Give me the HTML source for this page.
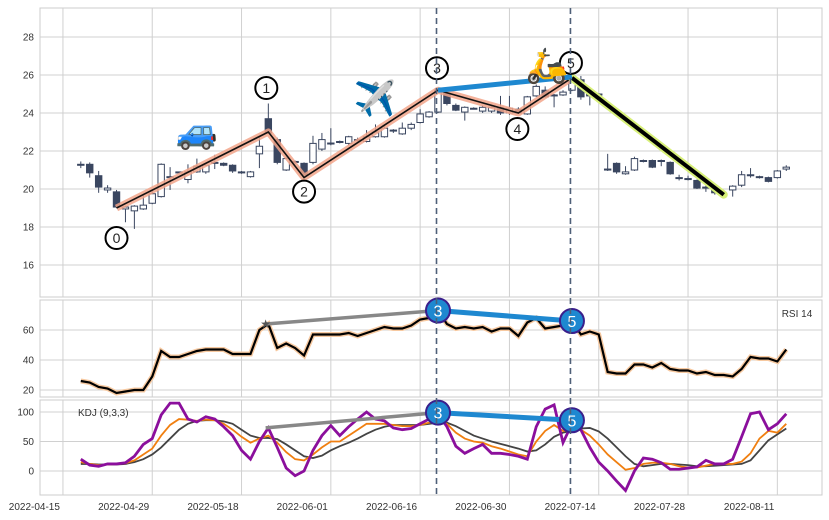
<!DOCTYPE html>
<html><head><meta charset="utf-8">
<style>
body{margin:0;background:#fff;}
svg{display:block;font-family:"Liberation Sans",sans-serif;}
</style></head>
<body>
<svg id="chart" width="829" height="520" viewBox="0 0 829 520" xmlns="http://www.w3.org/2000/svg"></svg>
<script>
const openP=[21.25,21.3,20.7,19.95,19.85,18.95,18.85,18.95,19.25,19.6,20.6,20.85,20.5,20.9,20.9,21.35,21.35,21.25,20.9,20.65,21.85,23.7,22.6,21.0,21.4,21.35,21.4,22.1,22.4,22.45,22.4,22.55,22.5,22.75,22.75,23.05,22.9,23.2,23.5,23.8,24.05,25.05,24.4,24.05,24.25,24.1,24.1,24.3,24.0,24.2,23.95,24.9,25.2,24.95,24.95,25.2,25.75,25.15,25.0,21.05,21.35,20.8,21.0,21.45,21.5,21.5,21.4,20.6,20.55,20.45,20.1,20.1,19.75,19.95,20.2,20.7,20.65,20.6,20.6,21.05];
const highP=[21.45,21.4,20.95,20.2,19.95,19.1,19.15,19.7,19.95,21.35,21.15,20.9,21.3,21.6,21.3,21.8,21.4,21.3,20.95,20.95,22.8,24.5,22.7,21.7,21.5,21.4,22.8,22.95,23.2,22.55,22.8,22.7,23.1,23.4,23.3,23.15,23.5,23.5,24.2,24.1,25.3,25.1,24.5,24.35,24.3,24.4,24.35,24.9,24.9,24.3,24.9,25.5,25.4,25.0,25.2,25.9,25.95,25.2,25.05,21.85,21.4,21.2,21.7,21.55,21.55,21.55,21.45,20.75,20.7,20.5,20.2,20.2,19.85,20.2,20.95,21.1,20.7,20.65,21.0,21.25];
const lowP=[21.1,20.6,19.8,19.8,19.0,18.25,17.9,18.9,19.2,19.55,19.95,20.8,20.3,20.85,20.8,21.05,21.2,20.85,20.8,20.6,21.1,22.9,21.3,20.95,21.3,20.6,21.3,22.0,22.3,22.4,22.3,22.5,22.45,22.7,22.7,22.95,22.85,23.1,23.45,23.75,24.0,24.4,24.1,23.6,24.2,24.0,24.0,23.9,23.9,23.95,23.9,24.85,24.8,24.3,24.9,25.15,24.7,24.4,24.9,20.95,20.8,20.75,20.95,21.4,21.1,21.2,20.75,20.45,20.45,20.0,19.85,19.7,19.6,19.6,20.1,20.6,20.55,20.35,20.55,20.95];
const closeP=[21.3,20.85,20.1,20.05,19.05,19.05,19.1,19.15,19.75,21.3,20.65,20.9,20.9,21.2,21.25,21.4,21.25,20.95,20.85,20.9,22.25,22.95,21.4,21.6,21.45,20.75,22.4,22.6,22.42,22.5,22.75,22.6,22.75,23.0,23.2,23.1,23.2,23.4,23.95,24.05,25.2,24.5,24.15,24.3,24.25,24.3,24.3,24.0,24.25,24.0,24.85,25.4,24.85,24.95,25.1,25.8,24.85,24.9,24.95,21.0,20.9,20.9,21.6,21.5,21.15,21.5,20.8,20.6,20.55,20.05,20.1,19.8,19.7,20.15,20.75,20.75,20.65,20.4,20.95,21.15];
const rsi=[26,25,22,21,18,19,20,20,29,46,42,42,44,46,47,47,47,44,44,44,60,64,48,51,48,43,57,57,57,57,58,56,58,60,62,61,61,63,67,68,73,64,61,62,61,62,59,61,61,56,65,68,61,62,63,66,57,59,57,32,31,31,37,37,35,38,34,33,33,31,32,30,30,29,34,42,41,41,39,47];
const kLine=[15,12,10,11,12,13,18,28,38,60,78,88,87,85,87,86,80,70,58,48,55,60,48,32,20,18,28,40,50,50,60,70,80,80,80,78,76,76,78,82,85,80,65,55,50,48,42,38,33,28,25,50,68,78,68,70,70,60,45,28,15,2,5,12,14,14,12,8,6,6,9,12,12,12,16,30,55,68,65,80];
const dLine=[12,12,11,11,11,12,15,20,28,40,55,70,80,85,86,86,84,80,70,60,56,56,54,45,35,25,22,26,35,42,48,55,63,70,75,78,78,78,78,80,82,82,76,68,60,55,50,46,42,38,33,35,45,58,65,68,72,73,67,55,40,25,12,8,10,12,12,11,10,8,8,9,10,11,12,18,35,52,62,72];
const jLine=[20,10,8,12,12,14,25,45,55,95,115,115,88,83,92,88,75,60,35,20,50,73,40,5,-8,0,35,60,77,60,75,88,100,88,85,73,70,72,80,88,97,75,42,30,38,45,30,30,28,25,20,75,105,112,48,80,70,40,15,0,-17,-33,0,22,20,14,3,3,5,7,18,12,12,20,58,97,100,70,80,97];
const tickIdx=[-2,8,18,28,38,48,58,68,78];
const tickLabels=["2022-04-15","2022-04-29","2022-05-18","2022-06-01","2022-06-16","2022-06-30","2022-07-14","2022-07-28","2022-08-11"];
const priceTicks=[16,18,20,22,24,26,28];
const rsiTicks=[20,40,60];
const kdjTicks=[0,50,100];
const pivotIdx=[4,21,25,40,49,55];
const pivotPrice=[19.0,23.0,20.6,25.2,24.0,25.85];
const finalIdx=72, finalPrice=19.7;

const NS="http://www.w3.org/2000/svg";
const svg=document.getElementById('chart');
function el(tag,attrs,parent){const e=document.createElementNS(NS,tag);for(const k in attrs)e.setAttribute(k,attrs[k]);(parent||svg).appendChild(e);return e;}
const X=i=>80.8+8.93*i;
const PY=p=>265-(p-16)*19;
const RY=v=>390-(v-20)*1.5;
const KY=v=>471-v*0.59;
const L=40,R=822;
const grid='#d0d0d0';

const panels=[[8,297],[300,397],[400,495]];
panels.forEach((p,k)=>{
 const r=el('rect',{x:L,y:p[0],width:R-L,height:p[1]-p[0],fill:'#fff',stroke:'#cccccc','stroke-width':1});
 
 
});
tickIdx.forEach((t,k)=>{
 panels.forEach(p=>{
  const g=el('line',{x1:X(t),x2:X(t),y1:p[0],y2:p[1],stroke:grid,'stroke-width':1});
  
  
 });
 const tx=el('text',{x:X(t)-3,y:510,'font-size':10,fill:'#333','text-anchor':'end'});
 tx.textContent=tickLabels[k];
 
 
});
function yAxis(ticks,fy,name){
 ticks.forEach(v=>{
  const g=el('line',{x1:L,x2:R,y1:fy(v),y2:fy(v),stroke:grid,'stroke-width':1});
  
  
  const t=el('text',{x:34,y:fy(v)+3.5,'font-size':10,fill:'#333','text-anchor':'end'});
  t.textContent=v;
  
  
 });
}
yAxis(priceTicks,PY,'price');
yAxis(rsiTicks,RY,'rsi');
yAxis(kdjTicks,KY,'kdj');

const dark='#3a4660';
for(let i=0;i<openP.length;i++){
 const x=X(i);const up=closeP[i]>=openP[i];
 const w=el('line',{x1:x,x2:x,y1:PY(highP[i]),y2:PY(lowP[i]),stroke:dark,'stroke-width':1});
 
 
 const top=PY(Math.max(openP[i],closeP[i])),bot=PY(Math.min(openP[i],closeP[i]));
 const b=el('rect',{x:x-3.2,y:top,width:6.4,height:Math.max(1,bot-top),fill:up?'#fff':dark,stroke:dark,'stroke-width':1});
 
 
}

const zpts=pivotIdx.map((t,k)=>X(t)+','+PY(pivotPrice[k])).join(' ');
let z=el('polyline',{points:zpts,fill:'none',stroke:'#f2a58a','stroke-width':7,'stroke-opacity':0.85,'stroke-linejoin':'round'});


z=el('polyline',{points:zpts,fill:'none',stroke:'#111','stroke-width':1.6});


const lastX=X(pivotIdx[5]),lastY=PY(pivotPrice[5]);
z=el('line',{x1:lastX,y1:lastY,x2:X(finalIdx),y2:PY(finalPrice),stroke:'#d8f07a','stroke-width':8,'stroke-linecap':'round'});


z=el('line',{x1:lastX,y1:lastY,x2:X(finalIdx),y2:PY(finalPrice),stroke:'#000','stroke-width':4});


z=el('line',{x1:X(pivotIdx[3]),y1:PY(pivotPrice[3]),x2:lastX,y2:lastY-1,stroke:'#1e88d0','stroke-width':5});



const lblOff=[[0,30],[-2,-44],[0,14],[-1,-22],[-1,16],[-1,-15]];
pivotIdx.forEach((t,k)=>{
 const cx=X(t)+lblOff[k][0],cy=PY(pivotPrice[k])+lblOff[k][1];
 const c=el('circle',{cx:cx,cy:cy,r:11,fill:'#fff',stroke:'#000','stroke-width':2,'fill-opacity':k==5?0:1});
 
 
 const tx=el('text',{x:cx,y:cy+5,'font-size':14,'text-anchor':'middle',fill:'#222'});
 tx.textContent=String(k);
 
 
});
[['🚙',197,143,'car-icon'],['✈️',375,110,'plane-icon'],['🛵',547,77,'scooter-icon']].forEach(e=>{
 const t=el('text',{x:e[1],y:e[2],'font-size':34,'text-anchor':'middle'});
 t.textContent=e[0];
 
 
});

const rp=rsi.map((v,i)=>X(i)+','+RY(v)).join(' ');
let p=el('polyline',{points:rp,fill:'none',stroke:'#f7c9a0','stroke-width':5});


p=el('polyline',{points:rp,fill:'none',stroke:'#000','stroke-width':2.2});


let t=el('text',{x:797,y:317,'font-size':10,fill:'#333','text-anchor':'middle'});t.textContent='RSI 14';



[[dLine,'#444',1.8,'kdj-d-line'],[kLine,'#f07f10',1.8,'kdj-k-line'],[jLine,'#8b0f9c',2.8,'kdj-j-line']].forEach(s=>{
 const q=el('polyline',{points:s[0].map((v,i)=>X(i)+','+KY(v)).join(' '),fill:'none',stroke:s[1],'stroke-width':s[2]});
 
 
});
t=el('text',{x:78,y:416,'font-size':10,fill:'#333'});t.textContent='KDJ (9,3,3)';



function div(iA,vA,i3,v3,i5,v5,fy,name){
 let l=el('line',{x1:X(iA),y1:fy(vA),x2:X(i3),y2:fy(v3),stroke:'#888','stroke-width':3.5});
 
 
 l=el('line',{x1:X(i3),y1:fy(v3),x2:X(i5),y2:fy(v5),stroke:'#1e88d0','stroke-width':5});
 
 
 [[i3,v3,'3'],[i5,v5,'5']].forEach(m=>{
  const c=el('circle',{cx:X(m[0]),cy:fy(m[1]),r:12,fill:'#1e88d0',stroke:'#3a1f8c','stroke-width':2});
  
  
  const tx=el('text',{x:X(m[0]),y:fy(m[1])+6,'font-size':16,fill:'#fff','text-anchor':'middle'});
  tx.textContent=m[2];
  
  
 });
}
div(20.7,64,40,73,55,66,RY,'rsi');
const st=el('text',{x:X(20.7),y:RY(64)+4,'font-size':12,'text-anchor':'middle',fill:'#555'});st.textContent='★';


div(20.7,73,40,99,55,86,KY,'kdj');

[40,55].forEach(i=>{
 const l=el('line',{x1:X(i)-1.5,x2:X(i)-1.5,y1:8,y2:495,stroke:'#4e5f78','stroke-width':1.6,'stroke-dasharray':'6,4'});
 
 
});
</script>
</body></html>
